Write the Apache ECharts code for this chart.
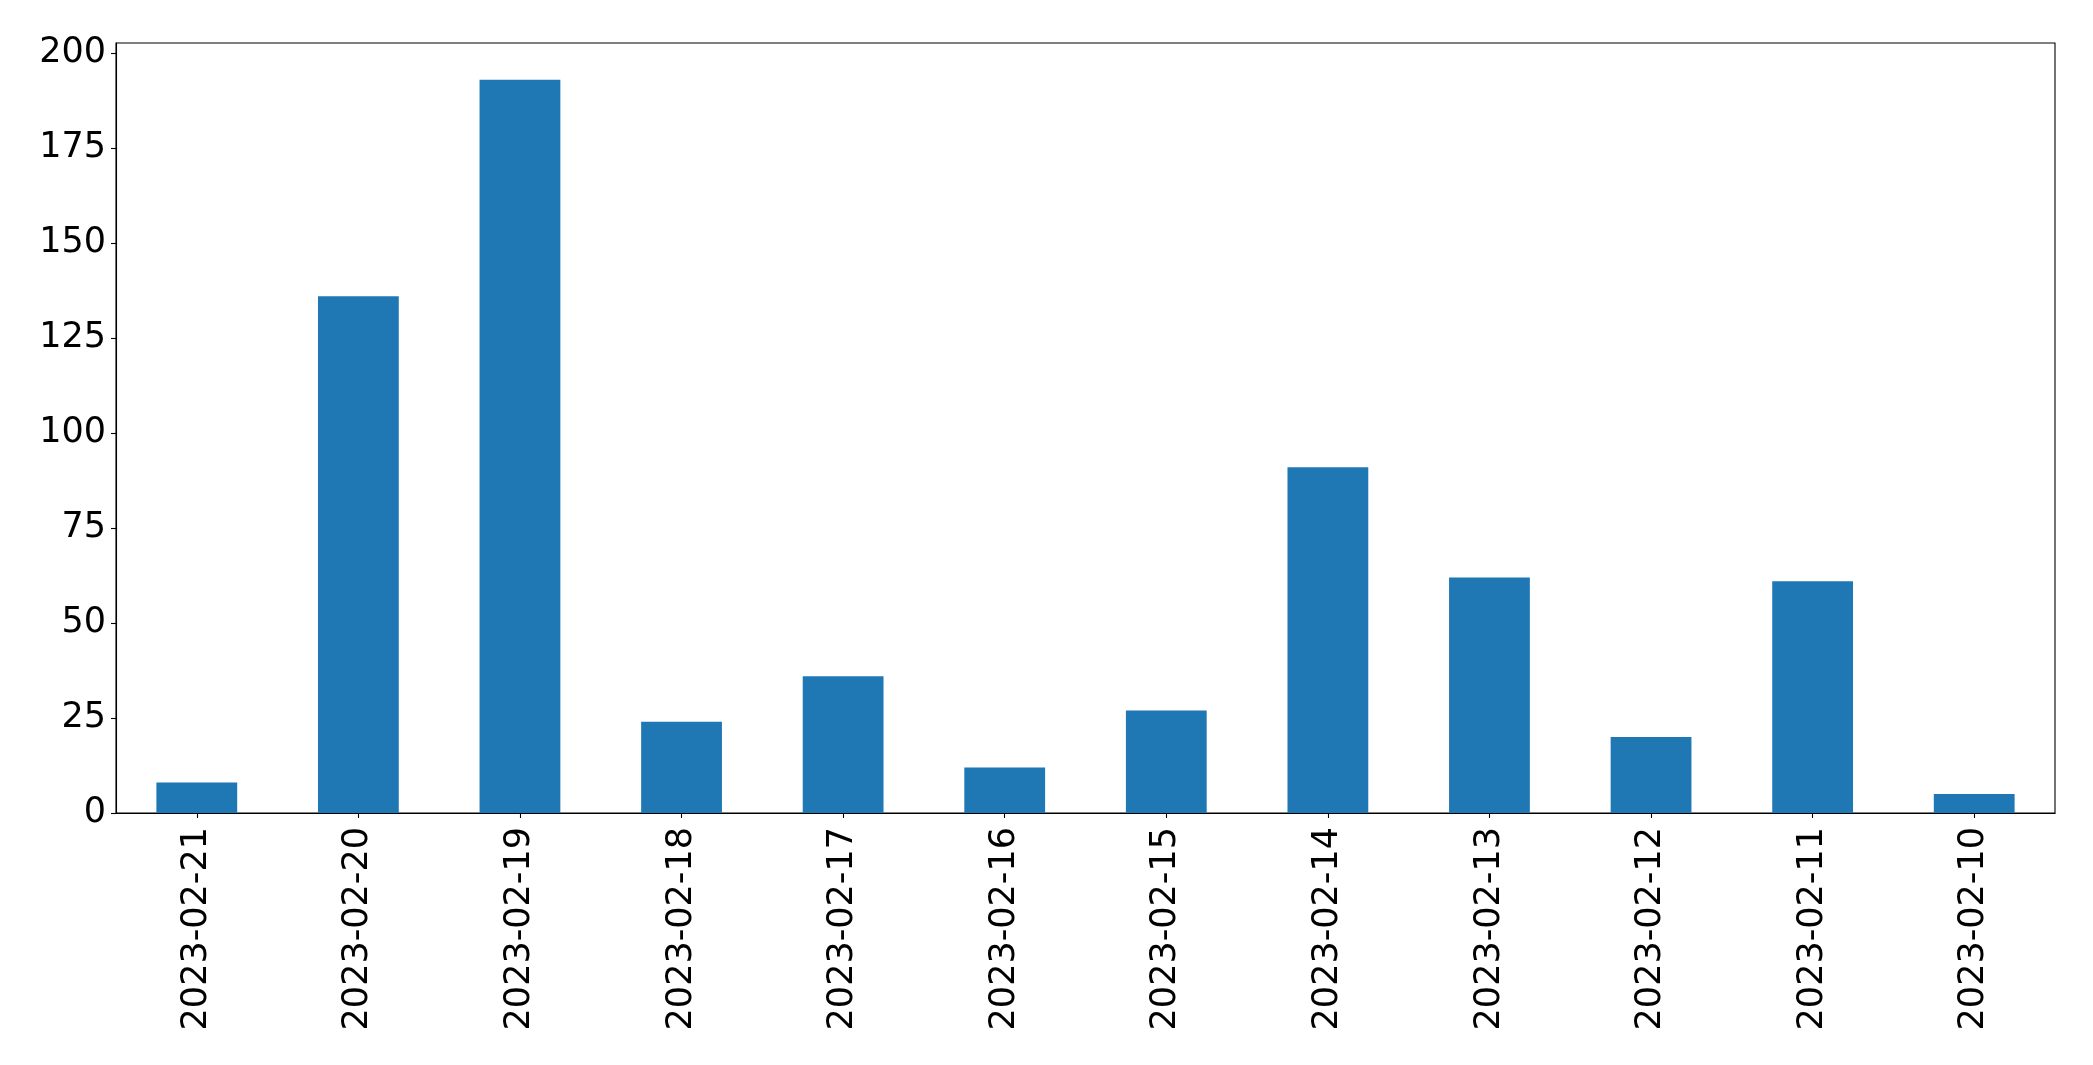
<!DOCTYPE html>
<html>
<head>
<meta charset="utf-8">
<script src="https://cdn.jsdelivr.net/npm/echarts@6/dist/echarts.min.js"></script>
<style>
html,body{margin:0;padding:0;background:#fff;}
#chart{width:2093px;height:1065px;}
</style>
</head>
<body>
<div id="chart"></div>
<script>
const categories = ["2023-02-21","2023-02-20","2023-02-19","2023-02-18","2023-02-17","2023-02-16","2023-02-15","2023-02-14","2023-02-13","2023-02-12","2023-02-11","2023-02-10"];
const counts = [8, 136, 193, 24, 36, 12, 27, 91, 62, 20, 61, 5];
const yTicks = [0, 25, 50, 75, 100, 125, 150, 175, 200];

const chart = echarts.init(document.getElementById('chart'), null, {renderer: 'canvas'});
const font = 'DejaVu Sans';
chart.setOption({
  animation: false,
  backgroundColor: '#ffffff',
  grid: {
    left: 116, right: 38, top: 43, bottom: 252,
    show: true, borderColor: '#000', borderWidth: 1.1, backgroundColor: 'transparent'
  },
  xAxis: {
    type: 'category',
    data: categories,
    boundaryGap: true,
    axisLine: {show: true, lineStyle: {color: '#000', width: 1.1}},
    axisTick: {show: true, alignWithLabel: true, length: 5, lineStyle: {color: '#000', width: 1.1}},
    axisLabel: {rotate: 90, margin: 14, color: '#000', fontSize: 35, fontFamily: font, interval: 0},
    splitLine: {show: false}
  },
  yAxis: {
    type: 'value',
    min: 0,
    max: 202.65,
    interval: 25,
    axisLine: {show: true, lineStyle: {color: '#000', width: 1.1}},
    axisTick: {show: true, length: 5, lineStyle: {color: '#000', width: 1.1}, customValues: yTicks},
    axisLabel: {color: '#000', fontSize: 35, fontFamily: font, margin: 10, padding: [6, 0, 0, 0], customValues: yTicks},
    splitLine: {show: false}
  },
  series: [{
    type: 'bar',
    data: counts,
    barWidth: '50%',
    itemStyle: {color: '#1f77b4'}
  }]
});
</script>
</body>
</html>
